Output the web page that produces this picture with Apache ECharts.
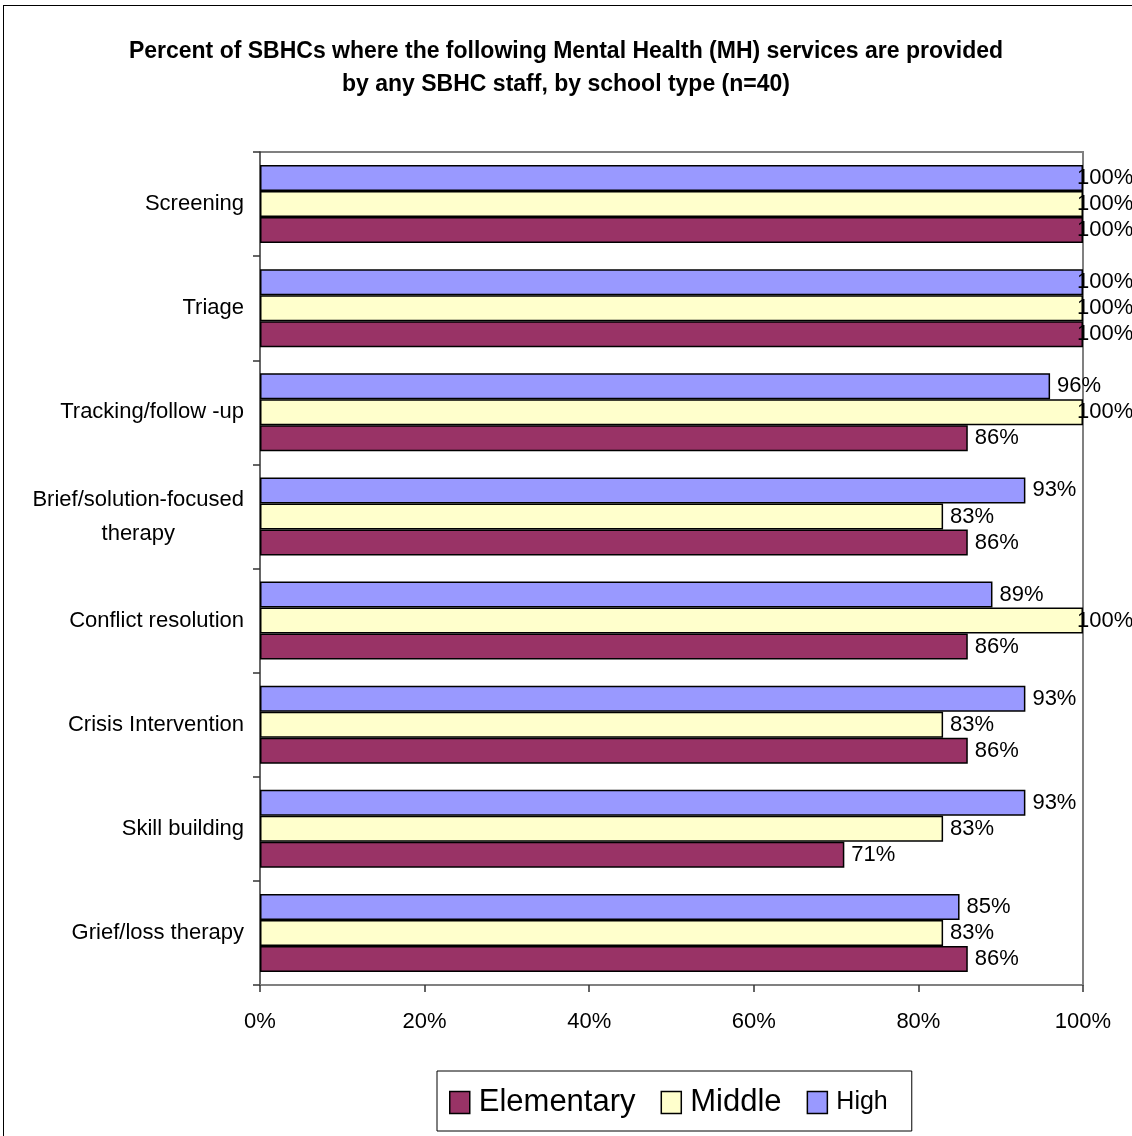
<!DOCTYPE html>
<html>
<head>
<meta charset="utf-8">
<script src="https://cdn.jsdelivr.net/npm/echarts@6/dist/echarts.min.js"></script>
<style>
html,body{margin:0;padding:0;background:#fff;overflow:hidden;}
#chart{position:absolute;left:0;top:0;width:1132px;height:1136px;}
#frame{position:absolute;left:3px;top:5px;width:1200px;height:1200px;border:1px solid #000;pointer-events:none;}
</style>
</head>
<body>
<div id="chart"></div>
<div id="frame"></div>
<script>
const categories = ['Screening','Triage','Tracking/follow -up','Brief/solution-focused\ntherapy','Conflict resolution','Crisis Intervention','Skill building','Grief/loss therapy'];
const seriesNames = ['Elementary','Middle','High'];
const elementary = [100,100,86,86,86,86,71,86];
const middle = [100,100,100,83,100,83,83,83];
const high = [100,100,96,93,89,93,93,85];
const xTicks = [0,20,40,60,80,100];
const colors = ['#993366','#FFFFCC','#9999FF'];
const values = [elementary, middle, high];

const chart = echarts.init(document.getElementById('chart'), null, {renderer:'canvas'});
const font = 'Liberation Sans, Arial, sans-serif';

// draw order: High on top of each group, Elementary at the bottom
const series = [2, 1, 0].map(i => ({
  name: seriesNames[i],
  type: 'bar',
  data: values[i].map(v => ({
    value: v,
    label: v >= 100 ? {offset: [-13, 0]} : {}
  })),
  barGap: '0%',
  barCategoryGap: '25%',
  itemStyle: {color: colors[i], borderColor: '#000', borderWidth: 1.5},
  label: {
    show: true, position: 'right', distance: 7,
    formatter: p => p.value + '%',
    fontFamily: font, fontSize: 22, color: '#000'
  },
  animation: false
}));

chart.setOption({
  animation: false,
  backgroundColor: '#fff',
  color: colors,
  title: {
    text: 'Percent of SBHCs where the following Mental Health (MH) services are provided\nby any SBHC staff, by school type (n=40)',
    left: 'center', top: 30,
    textStyle: {fontFamily: font, fontSize: 23, fontWeight: 'bold', color: '#000', lineHeight: 33}
  },
  legend: {
    data: seriesNames,
    left: 437, top: 1071,
    padding: [16, 24, 13, 12],
    borderColor: '#000', borderWidth: 1,
    itemWidth: 20, itemHeight: 22, itemGap: 25,
    icon: 'rect',
    itemStyle: {borderColor: '#000', borderWidth: 1.5},
    formatter: name => name === 'High' ? '{s|' + name + '}' : '{b|' + name + '}',
    textStyle: {
      fontFamily: font, color: '#000',
      rich: {
        b: {fontFamily: font, fontSize: 31, lineHeight: 33, color: '#000', padding: [0,0,0,4]},
        s: {fontFamily: font, fontSize: 25, lineHeight: 33, color: '#000', padding: [0,0,0,4]}
      }
    }
  },
  grid: {left: 260, right: 49, top: 152, bottom: 151, containLabel: false},
  xAxis: {
    type: 'value', min: 0, max: 100, interval: 20,
    axisLine: {show: true, lineStyle: {color: '#808080', width: 2}},
    axisTick: {show: true, length: 7, lineStyle: {color: '#333', width: 1.5}},
    splitLine: {show: false},
    axisLabel: {
      formatter: v => xTicks.includes(v) ? v + '%' : '',
      fontFamily: font, fontSize: 22, color: '#000', margin: 26
    }
  },
  yAxis: {
    type: 'category', data: categories, inverse: true,
    axisLine: {show: true, lineStyle: {color: '#333', width: 1.5}},
    axisTick: {show: true, length: 7, lineStyle: {color: '#333', width: 1.5}},
    axisLabel: {
      fontFamily: font, fontSize: 22, color: '#000', margin: 16,
      formatter: v => v.split('\n').map(s => '{c|' + s + '}').join('\n'),
      rich: {c: {fontFamily: font, fontSize: 22, color: '#000', align: 'center', lineHeight: 34}}
    }
  },
  graphic: [
    {type: 'polyline', silent: true, shape: {points: [[260,152],[1083,152],[1083,985]]}, style: {stroke: '#808080', lineWidth: 2, fill: null}}
  ],
  series: series
});
</script>
</body>
</html>
